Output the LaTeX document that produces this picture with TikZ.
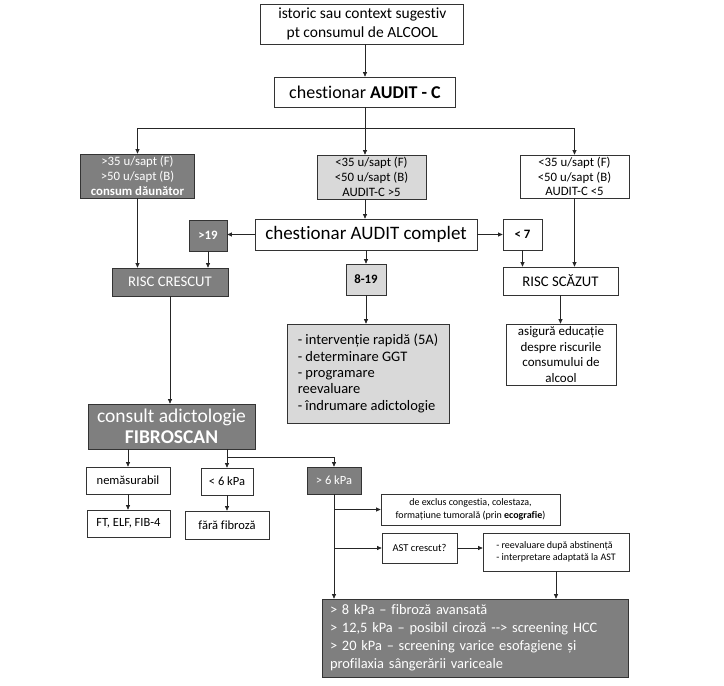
\documentclass[tikz,border=0pt]{standalone}
\usepackage{fontspec}
\setmainfont{Carlito}[Ligatures={TeX,NoCommon}]
\usetikzlibrary{arrows.meta}

\definecolor{grisoscuro}{HTML}{7F7F7F}
\definecolor{grisclaro}{HTML}{D9D9D9}

\begin{document}
\begin{tikzpicture}[x=1pt, y=-1pt,
  caja/.style={draw=black!80, line width=0.7pt, fill=white, align=center, inner sep=0pt},
  oscura/.style={caja, fill=grisoscuro, text=white},
  clara/.style={caja, fill=grisclaro},
  linea/.style={draw=black!85, line width=0.7pt},
  flecha/.style={linea, -{Triangle[length=4.5pt,width=4pt]}},
  t10/.style={font=\fontsize{10}{12.5}\selectfont},
  t12/.style={font=\fontsize{12.8}{14.8}\selectfont},
  t13/.style={font=\fontsize{12.5}{15.5}\selectfont},
  t15/.style={font=\fontsize{14.7}{17}\selectfont}]

\useasboundingbox (0,0) rectangle (724,686);

% --- Parte superior ---
\node[caja, font=\fontsize{15.5}{18.5}\selectfont, minimum width=203pt, minimum height=40pt] (ist) at (362.3,24) {istoric sau context sugestiv\\pt consumul de ALCOOL};
\node[caja, font=\fontsize{18}{21}\selectfont, minimum width=181pt, minimum height=30pt] (auc) at (365,92) {chestionar \textbf{AUDIT - C}};

% --- Tres ramas de consumo ---
\node[oscura, t12, minimum width=114pt, minimum height=44pt] (c1) at (137.5,176) {>35 u/sapt (F)\\>50 u/sapt (B)\\\textbf{consum dăunător}};
\node[clara, t12, minimum width=109pt, minimum height=44pt] (c2) at (371.5,177) {<35 u/sapt (F)\\<50 u/sapt (B)\\AUDIT-C >5};
\node[caja, t12, minimum width=109pt, minimum height=43pt] (c3) at (574.5,176.5) {<35 u/sapt (F)\\<50 u/sapt (B)\\AUDIT-C <5};

% --- AUDIT completo y puntajes ---
\node[caja, font=\fontsize{19}{22}\selectfont, minimum width=222pt, minimum height=31pt] (auf) at (366,234.5) {chestionar AUDIT complet};
\node[oscura, t12, minimum width=38pt, minimum height=31pt] (m19) at (208,235.5) {\textbf{>19}};
\node[caja, t12, minimum width=39pt, minimum height=31pt] (m7) at (522.5,234.5) {\textbf{< 7}};
\node[clara, t12, minimum width=40pt, minimum height=31pt] (m819) at (366,279.5) {\textbf{8-19}};

% --- Riesgo ---
\node[oscura, t15, minimum width=116pt, minimum height=28pt] (rc) at (170,282) {RISC CRESCUT};
\node[caja, t15, minimum width=115pt, minimum height=28pt] (rs) at (560.5,281) {RISC SCĂZUT};
\node[clara, font=\fontsize{14.5}{16.3}\selectfont, align=left, minimum width=162pt, minimum height=99pt] (int) at (368,373.5) {- intervenție rapidă (5A)\\- determinare GGT\\- programare\\reevaluare\\- îndrumare adictologie};
\node[caja, font=\fontsize{13}{15.7}\selectfont, minimum width=110pt, minimum height=61pt] (edu) at (561,354.5) {asigură educație\\despre riscurile\\consumului de\\alcool};

% --- FIBROSCAN ---
\node[oscura, font=\fontsize{19.5}{21.5}\selectfont, minimum width=167pt, minimum height=45pt] (cons) at (171.5,426.5) {consult adictologie\\\textbf{FIBROSCAN}};
\node[caja, t13, minimum width=84pt, minimum height=27pt] (nem) at (128,480.5) {nemăsurabil};
\node[caja, t13, minimum width=83pt, minimum height=27pt] (ft) at (128.5,523.5) {FT, ELF, FIB-4};
\node[caja, t13, minimum width=52pt, minimum height=27pt] (k6m) at (227,481.5) {< 6 kPa};
\node[caja, t13, minimum width=84pt, minimum height=28pt] (ff) at (227,525) {fără fibroză};
\node[oscura, t13, minimum width=54pt, minimum height=27pt] (k6p) at (334,480.5) {> 6 kPa};

% --- Rama > 6 kPa ---
\node[caja, t10, minimum width=179pt, minimum height=31pt] (exc) at (470.5,509.5) {de exclus congestia, colestaza,\\formațiune tumorală (prin \textbf{ecografie})};
\node[caja, font=\fontsize{10.5}{12.5}\selectfont, minimum width=75pt, minimum height=30pt] (ast) at (419.5,548) {AST crescut?};
\node[caja, t10, align=left, minimum width=146pt, minimum height=38pt] (rev) at (556,552) {- reevaluare după abstinență\\- interpretare adaptată la AST};
\node[oscura, font=\fontsize{14.4}{18}\selectfont, align=left, text width=290pt, inner xsep=8pt, minimum height=78pt] (fin) at (475,638) {> 8 kPa – fibroză avansată\\> 12,5 kPa – posibil ciroză -{}-> screening HCC\\> 20 kPa – screening varice esofagiene și\\profilaxia sângerării variceale};

% --- Conectores ---
\coordinate (j1) at (365,128);
\coordinate (j2) at (227,457);

\draw[flecha] (ist.south -| auc.north) -- (auc.north);
\draw[linea] (auc.south) -- (j1);
\draw[flecha] (j1) -| (c1.north);
\draw[flecha] (j1) -| (c3.north);
\draw[flecha] (j1) -- (j1 |- c2.north);
\draw[flecha] (c2.south -| j1) -- (j1 |- auf.north);
\draw[flecha] (auf.west) -- (auf.west -| m19.east);
\draw[flecha] (auf.east) -- (auf.east -| m7.west);
\draw[flecha] (auf.south) -- (m819.north);

\draw[flecha] (c1.south) -- (c1.south |- rc.north);
\draw[flecha] (m19.south) -- (m19.south |- rc.north);
\draw[flecha] (m7.south) -- (m7.south |- rs.north);
\draw[flecha] (c3.south) -- (c3.south |- rs.north);
\draw[flecha] (m819.south) -- (m819.south |- int.north);
\draw[flecha] (rs.south) -- (rs.south |- edu.north);
\draw[flecha] (rc.south) -- (rc.south |- cons.north);

\draw[flecha] (cons.south -| nem.north) -- (nem.north);
\draw[flecha] (cons.south -| k6m.north) -- (k6m.north);
\draw[flecha] (j2) -| (k6p.north);
\draw[flecha] (nem.south) -- (nem.south |- ft.north);
\draw[flecha] (k6m.south) -- (ff.north);

\draw[flecha] (k6p.south) -- (k6p.south |- fin.north);
\foreach \n in {exc,ast} {
  \draw[flecha] (k6p.south |- \n.west) -- (\n.west);
}
\draw[flecha] (ast.east) -- (ast.east -| rev.west);
\draw[flecha] (rev.south) -- (rev.south |- fin.north);

\end{tikzpicture}
\end{document}
